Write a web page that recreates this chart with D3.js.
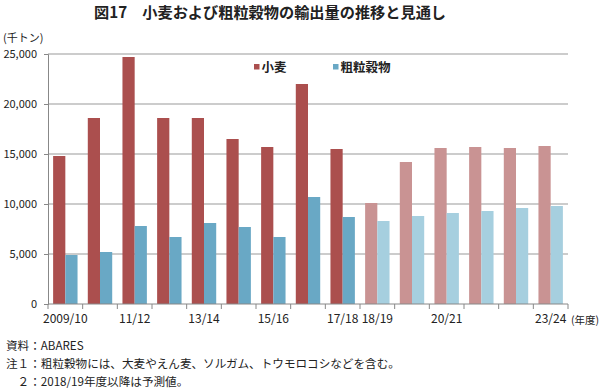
<!DOCTYPE html>
<html>
<head>
<meta charset="utf-8">
<script src="https://cdn.jsdelivr.net/npm/d3@7"></script>
<style>
  body { margin: 0; background: #fff; }
  text { font-family: "Noto Sans CJK JP", "Noto Sans", sans-serif; fill: #222; }
</style>
</head>
<body>
<div id="container"></div>
<script>
// data (千トン)
const years = ['2009/10', '10/11', '11/12', '12/13', '13/14', '14/15', '15/16', '16/17',
  '17/18', '18/19', '19/20', '20/21', '21/22', '22/23', '23/24']
const tickLabels = ['2009/10', '', '11/12', '', '13/14', '', '15/16', '', '17/18', '18/19', '', '20/21', '', '', '23/24']
const wheat = [14800, 18600, 24700, 18600, 18600, 16500, 15700, 22000, 15500, 10100, 14200, 15600, 15700, 15600, 15800]
const coarse = [4900, 5200, 7800, 6700, 8100, 7700, 6700, 10700, 8700, 8300, 8800, 9100, 9300, 9600, 9800]
const forecastFrom = 9 // index of 18/19
const seriesNames = ['小麦', '粗粒穀物']
const yTicks = [0, 5000, 10000, 15000, 20000, 25000]

const w = 605
const h = 389
const margin = {top: 54, left: 48, right: 37, bottom: 85}

const colors = {
  '小麦': ['#ab4f4e', '#c99393'],
  '粗粒穀物': ['#69a8c5', '#a6cfdf']
}

const svg = d3.select('#container')
  .append('svg')
  .attr('width', w)
  .attr('height', h)

const x0 = d3.scaleBand()
  .domain(years)
  .range([margin.left, w - margin.right])

const x1 = d3.scaleBand()
  .domain(seriesNames)
  .range([0, x0.bandwidth()])
  .paddingOuter(0.42)

const y = d3.scaleLinear()
  .domain([0, 25000])
  .range([h - margin.bottom, margin.top])

// title
svg.append('text')
  .attr('x', 94)
  .attr('y', 18)
  .attr('font-size', 15.2)
  .attr('font-weight', 'bold')
  .text('図17　小麦および粗粒穀物の輸出量の推移と見通し')

// unit
svg.append('text')
  .attr('x', 3)
  .attr('y', 42)
  .attr('font-size', 11)
  .text('(千トン)')

// gridlines
svg.append('g')
  .selectAll('line')
  .data(yTicks.slice(1))
  .enter()
  .append('line')
  .attr('x1', margin.left)
  .attr('x2', w - margin.right)
  .attr('y1', d => y(d))
  .attr('y2', d => y(d))
  .attr('stroke', '#999')
  .attr('stroke-width', 1)

// y axis
const yAxis = svg.append('g')
  .attr('transform', 'translate(' + margin.left + ',0)')
  .call(d3.axisLeft(y).tickValues(yTicks).tickSize(4).tickPadding(7)
    .tickFormat(d => d3.format(',')(d)))
yAxis.select('.domain').attr('stroke', '#888')
yAxis.selectAll('.tick line').attr('stroke', '#888')
yAxis.selectAll('text').attr('font-size', 11).attr('fill', '#222')
  .attr('font-family', '"Noto Sans CJK JP", sans-serif')

// bars
const groups = svg.selectAll('g.year')
  .data(years)
  .enter()
  .append('g')
  .attr('class', 'year')
  .attr('transform', d => 'translate(' + x0(d) + ',0)')

groups.selectAll('rect')
  .data((d, i) => [
    {name: '小麦', v: wheat[i], i: i},
    {name: '粗粒穀物', v: coarse[i], i: i}
  ])
  .enter()
  .append('rect')
  .attr('x', d => x1(d.name))
  .attr('width', x1.bandwidth())
  .attr('y', d => y(d.v))
  .attr('height', d => y(0) - y(d.v))
  .attr('fill', d => colors[d.name][d.i >= forecastFrom ? 1 : 0])

// x axis
const tickPos = years.map(d => x0(d)).concat([w - margin.right])
const xAxis = svg.append('g')
svg.append('line')
  .attr('x1', margin.left)
  .attr('x2', w - margin.right)
  .attr('y1', y(0))
  .attr('y2', y(0))
  .attr('stroke', '#888')
xAxis.selectAll('line')
  .data(tickPos)
  .enter()
  .append('line')
  .attr('x1', d => d)
  .attr('x2', d => d)
  .attr('y1', y(0))
  .attr('y2', y(0) + 5)
  .attr('stroke', '#888')
xAxis.selectAll('text')
  .data(years)
  .enter()
  .append('text')
  .attr('x', d => x0(d) + x0.bandwidth() / 2)
  .attr('y', y(0) + 19)
  .attr('text-anchor', 'middle')
  .attr('font-size', 12)
  .text((d, i) => tickLabels[i])

svg.append('text')
  .attr('x', 571)
  .attr('y', y(0) + 20)
  .attr('font-size', 10.5)
  .text('(年度)')

// legend
const legend = svg.append('g')
  .selectAll('g')
  .data(seriesNames)
  .enter()
  .append('g')
  .attr('transform', (d, i) => 'translate(' + (i === 0 ? 254 : 333) + ',64)')
legend.append('rect')
  .attr('width', 5.5)
  .attr('height', 5.5)
  .attr('fill', d => colors[d][0])
legend.append('text')
  .attr('x', 7.5)
  .attr('y', 7.5)
  .attr('font-size', 12.5)
  .attr('font-weight', 'bold')
  .text(d => d)

// notes
const notes = ['資料：ABARES', '注１：粗粒穀物には、大麦やえん麦、ソルガム、トウモロコシなどを含む。', '　２：2018/19年度以降は予測値。']
svg.append('g')
  .selectAll('text')
  .data(notes)
  .enter()
  .append('text')
  .attr('x', 6)
  .attr('y', (d, i) => 350 + i * 18)
  .attr('font-size', 11.6)
  .text(d => d)
</script>
</body>
</html>
